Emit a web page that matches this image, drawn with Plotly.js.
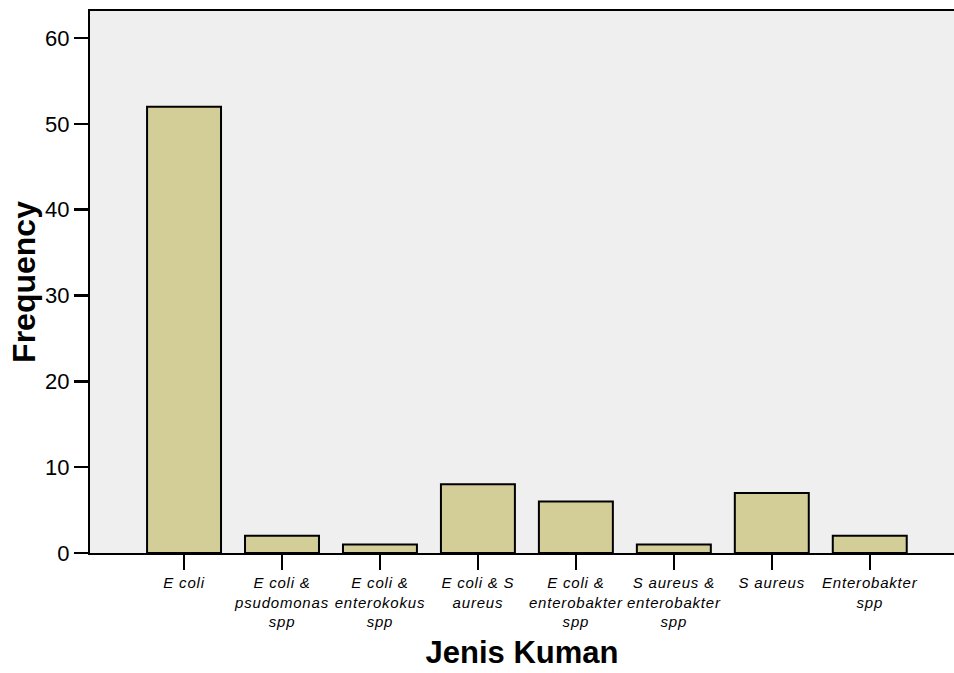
<!DOCTYPE html>
<html>
<head>
<meta charset="utf-8">
<script src="https://cdn.plot.ly/plotly-3.0.1.min.js"></script>
<style>
html,body{margin:0;padding:0;background:#fff;}
#chart{width:954px;height:673px;}
#chart .xtick text{letter-spacing:0.8px;}
</style>
</head>
<body>
<div id="chart"></div>
<script>
var categories = ["E coli", "E coli & psudomonas spp", "E coli & enterokokus spp", "E coli & S aureus", "E coli & enterobakter spp", "S aureus & enterobakter spp", "S aureus", "Enterobakter spp"];
var tickLabels = ["E coli", "E coli &<br>psudomonas<br>spp", "E coli &<br>enterokokus<br>spp", "E coli & S<br>aureus", "E coli &<br>enterobakter<br>spp", "S aureus &<br>enterobakter<br>spp", "S aureus", "Enterobakter<br>spp"];
var frequency = [52, 2, 1, 8, 6, 1, 7, 2];
var yTicks = [0, 10, 20, 30, 40, 50, 60];

var positions = categories.map(function(c, i){ return i; });

var trace = {
  type: 'bar',
  x: positions,
  y: frequency,
  width: 0.755,
  marker: {color: '#D3CE98', line: {color: '#000', width: 2}},
  hoverinfo: 'skip'
};

var layout = {
  width: 954, height: 673,
  margin: {l: 90, r: 0, t: 11, b: 120},
  paper_bgcolor: '#ffffff',
  plot_bgcolor: '#EFEFEF',
  font: {family: 'Liberation Sans, Arial, sans-serif', color: '#000'},
  showlegend: false,
  xaxis: {
    range: [-0.96, 7.86],
    tickmode: 'array', tickvals: positions, ticktext: tickLabels,
    ticks: 'outside', ticklen: 15, tickwidth: 2.5, tickcolor: '#000',
    tickfont: {size: 15, style: 'italic', family: 'Liberation Sans, Arial, sans-serif'},
    showline: true, linecolor: '#000', linewidth: 2, mirror: true,
    showgrid: false, zeroline: false,
    title: {text: '<b>Jenis Kuman</b>', font: {size: 31}, standoff: 12}
  },
  yaxis: {
    range: [0, 63.15],
    tickmode: 'array', tickvals: yTicks,
    ticks: 'outside', ticklen: 14, tickwidth: 2.5, tickcolor: '#000',
    tickfont: {size: 22},
    showline: true, linecolor: '#000', linewidth: 2,
    showgrid: false, zeroline: false,
    title: {text: '<b>Frequency</b>', font: {size: 32}, standoff: 0}
  },
  bargap: 0
};

Plotly.newPlot('chart', [trace], layout, {displayModeBar: false, staticPlot: true});
</script>
</body>
</html>
